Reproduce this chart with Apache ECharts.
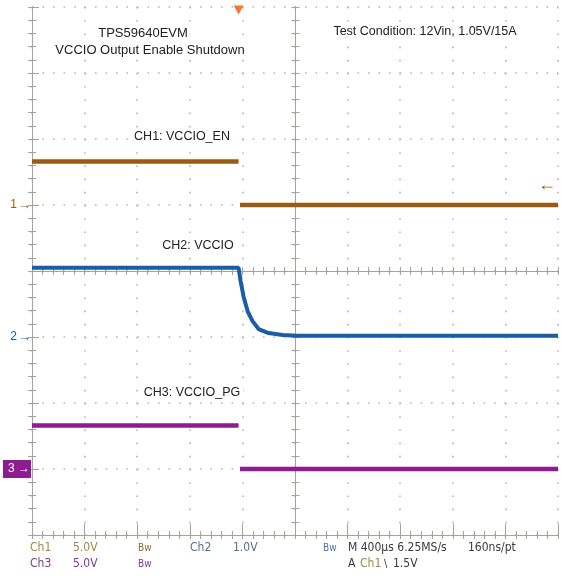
<!DOCTYPE html>
<html><head><meta charset="utf-8">
<script src="https://cdn.jsdelivr.net/npm/echarts@6/dist/echarts.min.js"></script>
<style>html,body{margin:0;padding:0;background:#fff}#c{width:561px;height:578px}</style>
</head><body><div id="c"></div>
<script>
// ---- scope settings ----
const timePerDivUs = 400;           // M 400us
const timeDivs = 10;
const vertDivs = 8;
const ch1Scale = 5.0, ch2Scale = 1.0, ch3Scale = 5.0;     // V/div
const ch1Offset = 5, ch2Offset = 3, ch3Offset = 1;        // ground marker, divisions from bottom
const trigTimeUs = 1571;
const trigLevelV = 1.5;

// ---- traces (time in us, voltage in V) ----
const ch1Time = [0, 1571, 1571, 1582, 4000];
const ch1Volt = [3.3, 3.3, null, 0, 0];

const ch2Time = [0, 1571, 1586, 1609, 1640, 1677, 1723, 1799, 1905, 2019, 4000];
const ch2Volt = [1.05, 1.05, 0.85, 0.61, 0.39, 0.24, 0.12, 0.06, 0.03, 0.02, 0.02];

const ch3Time = [0, 1571, 1571, 1582, 4000];
const ch3Volt = [3.3, 3.3, null, 0, 0];

const ch1Color = '#9b5b12', ch2Color = '#1a5ca6', ch3Color = '#8e1b90';

function toDiv(times, volts, off, scale) {
  return times.map((t, i) => [t, volts[i] == null ? '-' : off + volts[i] / scale]);
}

const axisC = '#a4a49c', gridC = '#b4b4b4';
const fontN = "'Liberation Sans Narrow','DejaVu Sans Condensed',sans-serif";
const fontS = "'Liberation Sans',Arial,sans-serif";

const xMax = timePerDivUs * timeDivs;
function xAx(extra) {
  return Object.assign({
    type: 'value', min: 0, max: xMax, interval: timePerDivUs,
    axisLabel: {show: false}, splitLine: {show: false},
    axisLine: {show: true, lineStyle: {color: axisC, width: 1}},
    axisTick: {show: true, inside: true, length: 4, lineStyle: {color: axisC}},
    minorTick: {show: true, splitNumber: 5, length: 4, lineStyle: {color: axisC}}
  }, extra);
}
function yAx(extra) {
  return Object.assign({
    type: 'value', min: 0, max: vertDivs, interval: 1,
    axisLabel: {show: false}, splitLine: {show: false},
    axisLine: {show: true, lineStyle: {color: axisC, width: 1}},
    axisTick: {show: true, inside: true, length: 4, lineStyle: {color: axisC}},
    minorTick: {show: true, splitNumber: 5, length: 4, lineStyle: {color: axisC}}
  }, extra);
}

const halfW = 527 / 2, halfH = 528 / 2;

const option = {
  backgroundColor: '#fff',
  animation: false,
  grid: {left: 31, top: 7, width: 527, height: 528},
  xAxis: [
    xAx({position: 'bottom',
      axisTick: {show: true, inside: true, length: 11, lineStyle: {color: axisC}},
      splitLine: {show: true, lineStyle: {color: gridC, width: 1.6, type: [1.6, 11.6]}}}),
    xAx({position: 'top'}),
    xAx({position: 'bottom', offset: -halfH,
      axisTick: {show: true, inside: true, length: 4, lineStyle: {color: axisC}}}),
    xAx({position: 'bottom', offset: -halfH,
      axisTick: {show: true, inside: false, length: 4, lineStyle: {color: axisC}}})
  ],
  yAxis: [
    yAx({position: 'left',
      axisTick: {show: true, inside: true, length: 7, lineStyle: {color: axisC}},
      splitLine: {show: true, lineStyle: {color: gridC, width: 1.6, type: [1.6, 8.9]}},
      axisLabel: {show: true, margin: 1,
        formatter: function (v) {
          if (v === ch1Offset) return '{a|1}{aa|→}';
          if (v === ch2Offset) return '{b|2}{bb|→}';
          if (v === ch3Offset) return '{c|3 →}';
          return '';
        },
        rich: {
          a: {color: ch1Color, fontSize: 12, fontFamily: fontS, padding: [0, 1, 0, 0]},
          aa: {color: ch1Color, fontSize: 13, fontFamily: fontS},
          b: {color: ch2Color, fontSize: 12, fontFamily: fontS, padding: [0, 1, 0, 0]},
          bb: {color: ch2Color, fontSize: 13, fontFamily: fontS},
          c: {color: '#fff', backgroundColor: ch3Color, fontSize: 12, fontFamily: fontS, padding: [3, 1, 3, 5]}
        }}}),
    yAx({position: 'right', axisLine: {show: false}}),
    yAx({position: 'left', offset: -halfW,
      axisTick: {show: true, inside: true, length: 4, lineStyle: {color: axisC}}}),
    yAx({position: 'left', offset: -halfW,
      axisTick: {show: true, inside: false, length: 4, lineStyle: {color: axisC}}})
  ],
  series: [
    {type: 'line', name: 'CH1', data: toDiv(ch1Time, ch1Volt, ch1Offset, ch1Scale),
      symbol: 'none', lineStyle: {color: ch1Color, width: 4.5}, z: 5,
      markPoint: {silent: true, data: [
        {coord: [xMax, ch1Offset + trigLevelV / ch1Scale], symbol: 'circle', symbolSize: 2,
          itemStyle: {color: 'rgba(0,0,0,0)'},
          label: {show: true, formatter: '←', position: 'left', distance: 1, color: ch1Color, fontSize: 18, fontWeight: 'bold', fontFamily: fontS}},
        {coord: [trigTimeUs, vertDivs], symbol: 'triangle', symbolRotate: 180, symbolSize: [10, 9],
          symbolOffset: [0, 3], itemStyle: {color: '#f07a32'}, label: {show: false}}
      ]}},
    {type: 'line', name: 'CH2', data: toDiv(ch2Time, ch2Volt, ch2Offset, ch2Scale),
      symbol: 'none', lineStyle: {color: ch2Color, width: 4}, z: 5},
    {type: 'line', name: 'CH3', data: toDiv(ch3Time, ch3Volt, ch3Offset, ch3Scale),
      symbol: 'none', lineStyle: {color: ch3Color, width: 4.5}, z: 5}
  ],
  graphic: [
    t(143, 33, 'TPS59640EVM', '#222', '13px ' + fontS, 'center', true),
    t(150, 50, 'VCCIO Output Enable Shutdown', '#222', '13px ' + fontS, 'center', true),
    t(425, 32, 'Test Condition: 12Vin, 1.05V/15A', '#222', '12.5px ' + fontS, 'center', true),
    t(182, 137, 'CH1: VCCIO_EN', '#222', '12.5px ' + fontS, 'center', true),
    t(198, 246, 'CH2: VCCIO', '#222', '12.5px ' + fontS, 'center', true),
    t(192, 393, 'CH3: VCCIO_PG', '#222', '12.5px ' + fontS, 'center', true),
    // bottom readout
    t(30, 548, 'Ch1', '#a08c3c', '12px ' + fontN),
    t(73, 548, '5.0V', '#a08c3c', '12px ' + fontN),
    t(138, 548, 'Bw', '#8a6a2a', '10px ' + fontN),
    t(190, 548, 'Ch2', '#4c709c', '12px ' + fontN),
    t(233, 548, '1.0V', '#4c709c', '12px ' + fontN),
    t(323, 548, 'Bw', '#4c709c', '10px ' + fontN),
    t(348, 548, 'M 400µs 6.25MS/s', '#3a3a3a', '12px ' + fontN),
    t(468, 548, '160ns/pt', '#3a3a3a', '12px ' + fontN),
    t(30, 564, 'Ch3', '#7a3a8c', '12px ' + fontN),
    t(73, 564, '5.0V', '#7a3a8c', '12px ' + fontN),
    t(138, 564, 'Bw', '#7a3a8c', '10px ' + fontN),
    t(348, 564, 'A', '#3a3a3a', '12px ' + fontN),
    t(360, 564, 'Ch1', '#a08c3c', '12px ' + fontN),
    t(384, 564, '\\', '#3a3a3a', '11px ' + fontN),
    t(393, 564, '1.5V', '#3a3a3a', '12px ' + fontN)
  ]
};

function t(x, y, text, color, font, align, bg) {
  const style = {text: text, fill: color, font: font, align: align || 'left', verticalAlign: 'middle',
      textAlign: align || 'left', textVerticalAlign: 'middle'};
  if (bg) { style.backgroundColor = '#fff'; style.padding = [2, 3]; }
  return {type: 'text', x: x, y: y, silent: true, z: 10, style: style};
}

const chart = echarts.init(document.getElementById('c'), null, {renderer: 'canvas'});
chart.setOption(option);
</script>
</body></html>
